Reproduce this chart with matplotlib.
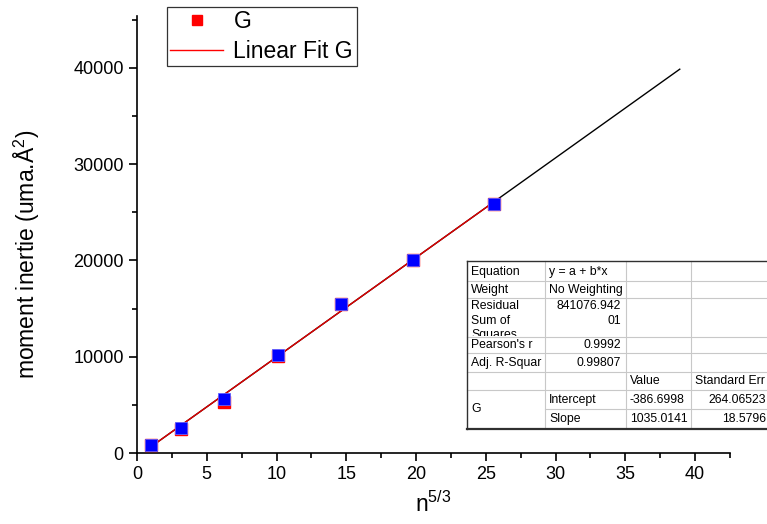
import matplotlib
matplotlib.use("Agg")
import matplotlib.pyplot as plt
from matplotlib.patches import Rectangle
from matplotlib.lines import Line2D
from matplotlib.transforms import Bbox
import numpy as np

plt.rcParams['font.family'] = ['Liberation Sans', 'DejaVu Sans']
plt.rcParams['mathtext.fontset'] = 'custom'
plt.rcParams['mathtext.rm'] = 'Liberation Sans'
plt.rcParams['mathtext.it'] = 'Liberation Sans'

# data: n^(5/3) vs moment of inertia
x_vals = [1.0, 3.17, 6.24, 10.08, 14.62, 19.81, 25.61]
g_red = [800, 2450, 5250, 10100, 15450, 20050, 25900]
g_blue = [830, 2600, 5600, 10150, 15500, 20100, 25900]

# linear fit parameters
intercept = -386.6998
slope = 1035.0141
fit_x_end = 38.9

x_ticks = [0, 5, 10, 15, 20, 25, 30, 35, 40]
y_ticks = [0, 10000, 20000, 30000, 40000]

table_rows = [
    ["Equation", "y = a + b*x", "", ""],
    ["Weight", "No Weighting", "", ""],
    ["Residual\nSum of\nSquares", "841076.942\n01", "", ""],
    ["Pearson's r", "0.9992", "", ""],
    ["Adj. R-Squar", "0.99807", "", ""],
    ["", "", "Value", "Standard Err"],
    ["G", "Intercept", "-386.6998", "264.06523"],
    ["", "Slope", "1035.0141", "18.5796"],
]

W, H = 767, 524
fig = plt.figure(figsize=(W / 100, H / 100), dpi=100)
ax = fig.add_axes([137 / W, (H - 453) / H, (730 - 137) / W, (453 - 16) / H])

fx = np.array([x_vals[0], fit_x_end])
ax.plot(fx, intercept + slope * fx, color='black', lw=1.0, zorder=2)
fx2 = np.array([x_vals[0], x_vals[-1]])
ax.plot(fx2, intercept + slope * fx2, color='#e00000', lw=1.0, zorder=3)
ax.plot(x_vals, g_red, 's', color='#ff0000', ms=8.5, mec='#ff0000', zorder=4)
ax.plot(x_vals, g_blue, 's', color='#0000ff', ms=8.5, mec='#6060ff', mew=0.6, zorder=5)

ax.set_xlim(0, 42.5)
ax.set_ylim(0, 45400)
ax.set_xticks(x_ticks)
ax.set_yticks(y_ticks)
ax.set_xticks(np.arange(2.5, 42.6, 5), minor=True)
ax.set_yticks(np.arange(5000, 45001, 10000), minor=True)
ax.tick_params(which='major', direction='out', length=6, width=1.2, labelsize=13, colors='black')
ax.tick_params(which='minor', direction='out', length=3.5, width=1.2)
for s in ['top', 'right']:
    ax.spines[s].set_visible(False)
for s in ['left', 'bottom']:
    ax.spines[s].set_linewidth(1.2)

ax.set_xlabel('n$^{5/3}$', fontsize=16.5, labelpad=6)
ax.set_ylabel('moment inertie (uma.\u00c5$^{2}$)', fontsize=16.5)
ax.yaxis.set_label_coords(-0.161, 0.455)

handles = [Line2D([], [], marker='s', ls='none', color='#ff0000', ms=7.5),
           Line2D([], [], color='#ff0000', lw=1.0)]
leg = fig.legend(handles, ['G', 'Linear Fit G'], loc='upper left',
                 bbox_to_anchor=(167 / W, 1 - 7 / H), fontsize=16.5,
                 frameon=True, fancybox=False, edgecolor='black',
                 borderpad=0.15, handlelength=2.3, handletextpad=0.45,
                 labelspacing=0.28, borderaxespad=0)
leg.get_frame().set_linewidth(0.9)

# fit result table drawn in pixel coordinates
col_x = [467, 545, 626, 691, 800]
row_y = [261, 281, 298, 337, 353, 372, 390, 409, 428]
tr = fig.transFigure


def px_x(px):
    return px / W


def px_y(py):
    return 1 - py / H


fig.add_artist(Rectangle((px_x(467), px_y(428)), px_x(800) - px_x(467), px_y(261) - px_y(428),
                         transform=tr, facecolor='white', edgecolor='none', zorder=6))
grid_c = '#c8c8c8'
for i, y in enumerate(row_y[1:-1], start=1):
    x0 = 545 if i == 7 else 467
    fig.add_artist(Line2D([px_x(x0), px_x(800)], [px_y(y), px_y(y)], transform=tr,
                          color=grid_c, lw=0.8, zorder=7))
for x in col_x[1:4]:
    fig.add_artist(Line2D([px_x(x), px_x(x)], [px_y(261), px_y(428)], transform=tr,
                          color=grid_c, lw=0.8, zorder=7))
# outer border
fig.add_artist(Line2D([px_x(467), px_x(800)], [px_y(261), px_y(261)], transform=tr, color='#303030', lw=1.0, zorder=8))
fig.add_artist(Line2D([px_x(467), px_x(467)], [px_y(261), px_y(429)], transform=tr, color='#303030', lw=1.0, zorder=8))
fig.add_artist(Line2D([px_x(467), px_x(800)], [px_y(429), px_y(429)], transform=tr, color='#303030', lw=1.6, zorder=8))

fs = 8.8
for r, row in enumerate(table_rows):
    for c, txt in enumerate(row):
        if not txt:
            continue
        y0, y1 = row_y[r], row_y[r + 1]
        if r == 6 and c == 0:
            y1 = row_y[8]
        xl, xr = col_x[c], col_x[c + 1]
        if c == 1 and r in (2, 3, 4):
            ha, xp = 'right', xr - 5
        elif c == 3 and r in (6, 7):
            ha, xp = 'right', 766
        else:
            ha, xp = 'left', xl + 4
        if r == 2:
            t = fig.text(px_x(xp), px_y(y0 + 2), txt, ha=ha, va='top', fontsize=fs,
                         linespacing=1.3, zorder=9)
            t.set_clip_box(Bbox.from_extents(xl, H - y1 + 1, xr, H - y0))
        else:
            fig.text(px_x(xp), px_y((y0 + y1) / 2 + 0.5), txt, ha=ha, va='center',
                     fontsize=fs, zorder=9)

fig.savefig('out.png', dpi=100)
